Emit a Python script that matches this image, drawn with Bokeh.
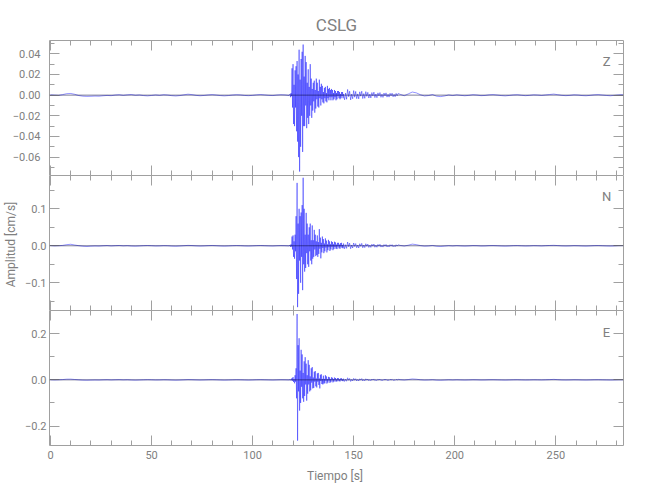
import numpy as np
from bokeh.plotting import figure
from bokeh.layouts import column
from bokeh.models import (Range1d, FixedTicker, LinearAxis, Label, Title, Span,
                          CustomLabelingPolicy)
from bokeh.embed import file_html
from bokeh.resources import INLINE

# ---------------- data (cm/s) ----------------
# each trace is stored as 4 segments sampled at different intervals
SEG_T0 = [0.0, 118.5, 145.5, 173.0]     # segment start times [s]
SEG_DT = [2.0, 0.25, 0.5, 2.0]          # segment sample intervals [s]

Z_PRE = [0.0003, 0.0000, -0.0002, 0.0005, 0.0014, 0.0016, 0.0008, -0.0004, -0.0010, -0.0012,
         -0.0011, -0.0009, -0.0010, -0.0006, -0.0003, -0.0005, 0.0001, 0.0004, -0.0002, 0.0003,
         0.0006, -0.0001, 0.0002, -0.0004, -0.0007, -0.0003, 0.0002, -0.0002, 0.0004, 0.0001,
         -0.0005, -0.0008, -0.0004, 0.0003, 0.0009, 0.0005, -0.0002, -0.0006, -0.0003, 0.0002,
         0.0005, 0.0001, -0.0004, -0.0007, -0.0004, 0.0001, 0.0004, 0.0002, -0.0003, -0.0005,
         -0.0002, 0.0003, 0.0006, 0.0002, -0.0002, -0.0004, 0.0001, 0.0004, 0.0002, -0.0003]
Z_BURST = [0.001, -0.002, 0.002, -0.001,
           0.026, -0.012, 0.030, -0.028, 0.010,
           -0.030, 0.024, -0.012, 0.028, -0.035, 0.033,
           -0.045, 0.020, -0.060, 0.044, -0.074, 0.015, -0.050,
           0.035, -0.020, 0.042, -0.055, 0.049, -0.030, 0.018,
           -0.030, 0.038, -0.010, 0.032, -0.032, 0.012, -0.022, 0.025,
           -0.028, 0.008, -0.020, 0.030, -0.010, 0.016, -0.022, 0.006,
           -0.015, 0.012, -0.006, 0.014, -0.017, 0.005, -0.013, 0.016, -0.004, 0.012,
           -0.011, 0.004, -0.012, 0.015, -0.003, 0.008, -0.010, 0.011, -0.004, 0.009, -0.007, 0.003,
           -0.008, 0.007, -0.003, 0.008, -0.006, 0.002, -0.007, 0.009, -0.003, 0.006,
           -0.005, 0.007, -0.002, 0.005, -0.005, 0.006, -0.002, 0.005, -0.005, 0.002,
           -0.004, 0.005, -0.002, 0.004, -0.005, 0.002, -0.004, 0.004, -0.001, 0.004,
           -0.003, 0.003, -0.004, 0.001, -0.003, 0.003, -0.001, 0.003, -0.003, 0.001]
Z_CODA = [-0.0045, 0.002, -0.004, 0.0055, -0.0015, 0.0038, -0.0046, 0.001, -0.0035, 0.0044,
          -0.002, 0.0036, -0.0034, 0.0012, -0.0036, 0.0032, -0.001, 0.0038, -0.0033, 0.0015,
          -0.0031, 0.0034, -0.0012, 0.0027, -0.0028, 0.001, -0.0027, 0.0025, -0.0009, 0.0029,
          -0.0024, 0.0011, -0.0025, 0.0022, -0.0008, 0.0025, -0.0021, 0.0009, -0.0022, 0.002,
          -0.0007, 0.0022, -0.0019, 0.0008, -0.0019, 0.0018, -0.0006, 0.0019, -0.0016, 0.0007,
          -0.0016, 0.0017, -0.0006, 0.0016]
Z_TAIL = [0.0008, -0.0006, 0.0012, 0.0030, 0.0022, 0.0004, -0.0008, -0.0004, 0.0006, -0.0010,
          -0.0014, -0.0008, 0.0002, -0.0004, 0.0003, -0.0002, -0.0006, -0.0002, 0.0004, 0.0001,
          -0.0005, -0.0003, 0.0003, 0.0005, 0.0001, -0.0004, -0.0007, -0.0003, 0.0002, 0.0004,
          -0.0001, -0.0005, -0.0002, 0.0003, 0.0001, -0.0003, 0.0002, 0.0006, 0.0010, 0.0004,
          -0.0002, -0.0005, -0.0002, 0.0003, 0.0001, -0.0004, -0.0006, -0.0002, 0.0003, 0.0005,
          0.0001, -0.0003, -0.0006, -0.0002, 0.0002, 0.0004, 0.0001]

N_PRE = [0.0005, -0.0003, 0.0002, 0.0010, 0.0030, 0.0040, 0.0020, 0.0002, -0.0012, -0.0018,
         -0.0010, -0.0005, -0.0008, 0.0000, 0.0006, -0.0004, 0.0003, 0.0008, -0.0002, 0.0004,
         -0.0006, -0.0010, -0.0004, 0.0003, 0.0007, 0.0002, -0.0005, -0.0003, 0.0004, 0.0001,
         -0.0008, -0.0012, -0.0006, 0.0002, 0.0010, 0.0006, -0.0002, -0.0007, -0.0003, 0.0004,
         0.0008, 0.0002, -0.0005, -0.0009, -0.0004, 0.0002, 0.0006, 0.0003, -0.0004, -0.0007,
         -0.0002, 0.0004, 0.0007, 0.0002, -0.0003, -0.0006, 0.0001, 0.0005, 0.0002, -0.0004]
N_BURST = [0.002, -0.003, 0.004, -0.002,
           0.025, -0.010, 0.028, -0.030, 0.012,
           -0.035, 0.030, -0.015, 0.080, -0.090, 0.170,
           -0.166, 0.060, -0.130, 0.100, -0.040, 0.080, -0.100,
           0.090, -0.030, 0.110, -0.120, 0.184, -0.050, 0.100,
           -0.070, 0.030, -0.060, 0.089, -0.020, 0.060, -0.050, 0.030,
           -0.057, 0.050, -0.015, 0.060, -0.040, 0.015, -0.050, 0.055,
           -0.035, 0.015, -0.030, 0.043, -0.010, 0.030, -0.028, 0.012, -0.025, 0.028,
           -0.030, 0.010, -0.022, 0.045, -0.008, 0.022, -0.034, 0.008, -0.018, 0.025, -0.006, 0.018,
           -0.020, 0.006, -0.015, 0.020, -0.005, 0.014, -0.018, 0.004, -0.012, 0.016,
           -0.004, 0.012, -0.014, 0.004, -0.010, 0.012, -0.003, 0.010, -0.012, 0.004,
           -0.009, 0.011, -0.003, 0.009, -0.008, 0.003, -0.009, 0.008, -0.002, 0.008,
           -0.007, 0.003, -0.008, 0.007, -0.002, 0.008, -0.006, 0.002, -0.007, 0.006]
N_CODA = [-0.008, 0.003, -0.007, 0.010, -0.0025, 0.007, -0.008, 0.002, -0.006, 0.0075,
          -0.002, 0.006, -0.0055, 0.0018, -0.006, 0.0055, -0.0015, 0.0065, -0.0055, 0.0018,
          -0.005, 0.0055, -0.0015, 0.0045, -0.0046, 0.0014, -0.0044, 0.0042, -0.0012, 0.0047,
          -0.004, 0.0013, -0.0041, 0.0037, -0.0011, 0.0041, -0.0035, 0.001, -0.0036, 0.0033,
          -0.001, 0.0036, -0.0031, 0.0009, -0.0031, 0.003, -0.0009, 0.0031, -0.0027, 0.0008,
          -0.0027, 0.0028, -0.0008, 0.0026]
N_TAIL = [0.0010, -0.0008, 0.0015, 0.0045, 0.0030, 0.0005, -0.0010, -0.0005, 0.0008, -0.0012,
          -0.0018, -0.0008, 0.0003, -0.0005, 0.0004, -0.0003, -0.0008, -0.0003, 0.0005, 0.0002,
          -0.0006, -0.0004, 0.0004, 0.0006, 0.0001, -0.0005, -0.0009, -0.0004, 0.0003, 0.0005,
          -0.0001, -0.0006, -0.0003, 0.0004, 0.0001, -0.0004, 0.0003, 0.0008, 0.0012, 0.0005,
          -0.0003, -0.0006, -0.0003, 0.0004, 0.0001, -0.0005, -0.0008, -0.0003, 0.0004, 0.0006,
          0.0001, -0.0004, -0.0007, -0.0003, 0.0003, 0.0005, 0.0001]

E_PRE = [0.0004, -0.0002, 0.0003, 0.0012, 0.0028, 0.0030, 0.0015, 0.0001, -0.0010, -0.0014,
         -0.0008, -0.0004, -0.0007, 0.0001, 0.0006, -0.0003, 0.0004, 0.0009, -0.0001, 0.0005,
         -0.0005, -0.0011, -0.0005, 0.0002, 0.0008, 0.0003, -0.0004, -0.0002, 0.0005, 0.0002,
         -0.0007, -0.0013, -0.0007, 0.0001, 0.0011, 0.0007, -0.0001, -0.0006, -0.0002, 0.0005,
         0.0009, 0.0003, -0.0004, -0.0010, -0.0005, 0.0001, 0.0007, 0.0004, -0.0003, -0.0008,
         -0.0003, 0.0005, 0.0008, 0.0003, -0.0002, -0.0007, 0.0000, 0.0006, 0.0003, -0.0003]
E_BURST = [0.001, -0.002, 0.003, -0.002,
           0.008, -0.004, 0.012, -0.009, 0.003,
           -0.015, 0.020, -0.008, 0.050, -0.080, 0.285,
           -0.263, 0.150, -0.050, 0.180, -0.133, 0.040, -0.100,
           0.130, -0.030, 0.110, -0.080, 0.030, -0.095, 0.080,
           -0.070, 0.098, -0.020, 0.070, -0.090, 0.020, -0.060, 0.085,
           -0.020, 0.065, -0.050, 0.015, -0.045, 0.050, -0.012, 0.055,
           -0.037, 0.010, -0.035, 0.035, -0.008, 0.038, -0.028, 0.006, -0.033, 0.028,
           -0.008, 0.030, -0.022, 0.006, -0.037, 0.022, -0.005, 0.024, -0.018, 0.004, -0.020, 0.018,
           -0.016, 0.004, -0.015, 0.020, -0.004, 0.015, -0.016, 0.003, -0.012, 0.013,
           -0.003, 0.011, -0.013, 0.003, -0.010, 0.011, -0.002, 0.009, -0.011, 0.003,
           -0.008, 0.010, -0.002, 0.008, -0.008, 0.002, -0.007, 0.008, -0.002, 0.007,
           -0.006, 0.002, -0.007, 0.006, -0.001, 0.007, -0.005, 0.002, -0.006, 0.005]
E_CODA = [-0.007, 0.0025, -0.006, 0.009, -0.002, 0.006, -0.007, 0.0015, -0.005, 0.0065,
          -0.0018, 0.005, -0.0048, 0.0015, -0.005, 0.0046, -0.0013, 0.0055, -0.0046, 0.0014,
          -0.0042, 0.0046, -0.0012, 0.0038, -0.0039, 0.0012, -0.0036, 0.0034, -0.001, 0.0039,
          -0.0033, 0.001, -0.0033, 0.003, -0.0009, 0.0034, -0.0028, 0.0009, -0.0029, 0.0027,
          -0.0008, 0.0029, -0.0025, 0.0008, -0.0025, 0.0024, -0.0007, 0.0025, -0.0022, 0.0007,
          -0.0022, 0.0023, -0.0006, 0.0021]
E_TAIL = [0.0008, -0.0006, 0.0012, 0.0038, 0.0026, 0.0004, -0.0008, -0.0004, 0.0007, -0.0010,
          -0.0015, -0.0007, 0.0003, -0.0004, 0.0004, -0.0002, -0.0007, -0.0002, 0.0005, 0.0002,
          -0.0005, -0.0003, 0.0004, 0.0006, 0.0001, -0.0004, -0.0008, -0.0003, 0.0003, 0.0005,
          -0.0001, -0.0005, -0.0002, 0.0004, 0.0001, -0.0003, 0.0003, 0.0010, 0.0020, 0.0008,
          -0.0002, -0.0005, -0.0002, 0.0004, 0.0001, -0.0004, -0.0007, -0.0002, 0.0004, 0.0005,
          0.0001, -0.0003, -0.0006, -0.0002, 0.0003, 0.0004, 0.0001]

# ticks / labels
X_TICKS = [0, 50, 100, 150, 200, 250]
X_LABELS = ["0", "50", "100", "150", "200", "250"]
X_MINOR = list(range(0, 290, 10))
Z_YTICKS = [-0.06, -0.04, -0.02, 0.0, 0.02, 0.04]
Z_YLABELS = ["\u22120.06", "\u22120.04", "\u22120.02", "0.00", "0.02", "0.04"]
Z_YMINOR = [-0.07, -0.05, -0.03, -0.01, 0.01, 0.03, 0.05]
N_YTICKS = [-0.1, 0.0, 0.1]
N_YLABELS = ["\u22120.1", "0.0", "0.1"]
N_YMINOR = [-0.15, -0.05, 0.05, 0.15]
E_YTICKS = [-0.2, 0.0, 0.2]
E_YLABELS = ["\u22120.2", "0.0", "0.2"]
E_YMINOR = [-0.1, 0.1]

# ---------------- styling ----------------
FONT = "Roboto"
AXC = "#a0a0a0"
TXC = "#808080"
TRACE = "#0000ff"
X_RANGE = (-0.5, 283.5)
BORDER_L, FRAME_W, BORDER_R = 47, 576, 27

NO_LABELS = CustomLabelingPolicy(code="""
try { for (const i of Array.from(indices)) indices.unset(i) } catch (e) {}
return indices
""")


def series(segs):
    t = np.concatenate([t0 + dt * np.arange(len(s)) for t0, dt, s in zip(SEG_T0, SEG_DT, segs)])
    v = np.concatenate([np.asarray(s, float) for s in segs])
    return t, v


def style_axis(ax, show_labels, standoff=3):
    ax.axis_line_color = AXC
    ax.major_tick_line_color = AXC
    ax.minor_tick_line_color = AXC
    ax.major_tick_in = 10
    ax.major_tick_out = 0
    ax.minor_tick_in = 5
    ax.minor_tick_out = 0
    if show_labels:
        ax.major_label_text_font = FONT
        ax.major_label_text_font_size = "11px"
        ax.major_label_text_color = TXC
        ax.major_label_standoff = standoff
    else:
        ax.major_label_text_font_size = "0px"
        ax.major_label_standoff = 0
        ax.major_label_policy = NO_LABELS


def panel(segs, yr, yticks, ylabels, yminor, comp, comp_y, height, top, bottom,
          ylab_standoff, bottom_labels):
    p = figure(width=BORDER_L + FRAME_W + BORDER_R, height=height,
               x_range=Range1d(*X_RANGE), y_range=Range1d(*yr),
               output_backend="svg", toolbar_location=None,
               x_axis_location=None, y_axis_location=None,
               min_border_left=BORDER_L, min_border_right=BORDER_R,
               min_border_top=top, min_border_bottom=bottom)
    p.grid.visible = False
    p.outline_line_color = None
    xt = FixedTicker(ticks=X_TICKS, minor_ticks=X_MINOR)
    yt = FixedTicker(ticks=yticks, minor_ticks=yminor)
    bx = LinearAxis(ticker=xt)
    style_axis(bx, bottom_labels, 5)
    if bottom_labels:
        bx.major_label_overrides = dict(zip(X_TICKS, X_LABELS))
    p.add_layout(bx, "below")
    ax = LinearAxis(ticker=xt)
    style_axis(ax, False)
    p.add_layout(ax, "above")
    ly = LinearAxis(ticker=yt)
    style_axis(ly, True, ylab_standoff)
    ly.major_label_overrides = dict(zip(yticks, ylabels))
    p.add_layout(ly, "left")
    ry = LinearAxis(ticker=yt)
    style_axis(ry, False)
    p.add_layout(ry, "right")

    p.add_layout(Span(location=0, dimension="width", line_color="#000033",
                      line_width=1, line_alpha=0.5))
    t, v = series(segs)
    p.line(t, v, line_color=TRACE, line_width=0.5, line_alpha=0.85)
    p.add_layout(Label(x=275.1, y=comp_y, text=comp, text_align="center",
                       text_baseline="middle", text_font=FONT, text_font_size="13px",
                       text_color=TXC))
    return p, bx, ly


p1, _, _ = panel([Z_PRE, Z_BURST, Z_CODA, Z_TAIL], (-0.0778, 0.0529),
                 Z_YTICKS, Z_YLABELS, Z_YMINOR, "Z", 0.0325, 175, 40, 0, 9, False)
p1.add_layout(Title(text="CSLG", align="center", text_font=FONT, text_font_size="17px",
                    text_color=TXC, text_font_style="normal", standoff=11), "above")

p2, _, ly2 = panel([N_PRE, N_BURST, N_CODA, N_TAIL], (-0.175, 0.19),
                   N_YTICKS, N_YLABELS, N_YMINOR, "N", 0.134, 135, 0, 0, 3, False)
ly2.axis_label = "Amplitud  [cm/s]"
ly2.axis_label_text_font = FONT
ly2.axis_label_text_font_size = "12px"
ly2.axis_label_text_font_style = "normal"
ly2.axis_label_text_color = TXC
ly2.axis_label_standoff = 4

p3, bx3, _ = panel([E_PRE, E_BURST, E_CODA, E_TAIL], (-0.284, 0.30),
                   E_YTICKS, E_YLABELS, E_YMINOR, "E", 0.206, 180, 0, 45, 3, True)
bx3.axis_label = "Tiempo  [s]"
bx3.axis_label_text_font = FONT
bx3.axis_label_text_font_size = "12px"
bx3.axis_label_text_font_style = "normal"
bx3.axis_label_text_color = TXC
bx3.axis_label_standoff = 7

layout = column(p1, p2, p3, spacing=0)
open("out.html", "w").write(file_html(layout, INLINE))
